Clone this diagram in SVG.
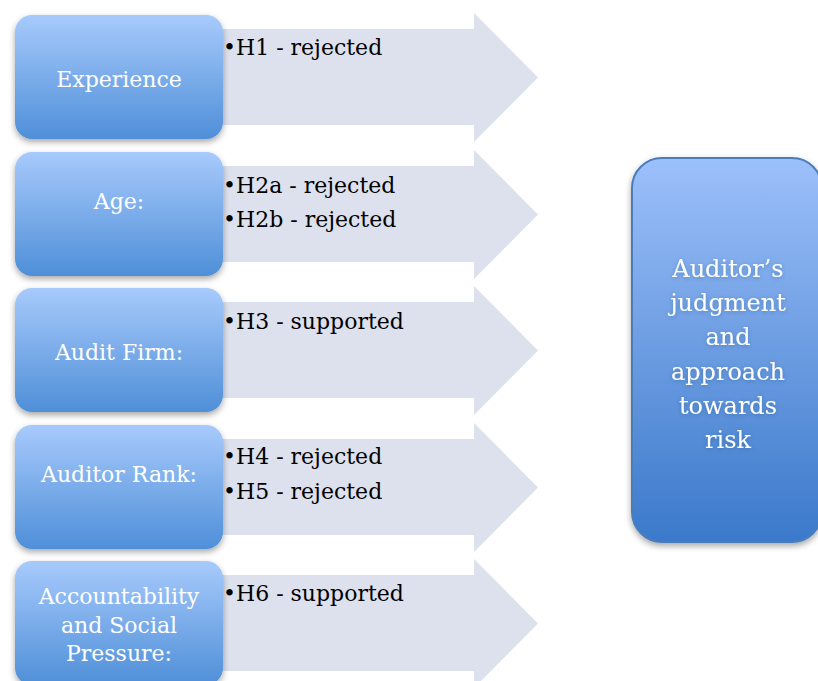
<svg xmlns="http://www.w3.org/2000/svg" width="818" height="681" viewBox="0 0 818 681">
<defs>
<linearGradient id="gBox" x1="0" y1="0" x2="0" y2="1">
<stop offset="0" stop-color="#a7cafc"/>
<stop offset="1" stop-color="#4f8fd8"/>
</linearGradient>
<linearGradient id="gBig" x1="0" y1="0" x2="0" y2="1">
<stop offset="0" stop-color="#9cc0fa"/>
<stop offset="1" stop-color="#3b79ca"/>
</linearGradient>
<filter id="sh" x="-10%" y="-10%" width="120%" height="130%">
<feDropShadow dx="0" dy="3" stdDeviation="3" flood-color="#000" flood-opacity="0.35"/>
</filter>
<filter id="tsh" x="-10%" y="-10%" width="120%" height="130%">
<feDropShadow dx="0" dy="1" stdDeviation="2" flood-color="#1f3f70" flood-opacity="0.35"/>
</filter>
</defs>
<style>
.arrow{fill:#dce1ed}
.box{fill:url(#gBox);filter:url(#sh)}
.big{fill:url(#gBig);stroke:#4a7ebb;stroke-width:2;filter:url(#sh)}
.lbl{font-family:"DejaVu Serif",serif;font-size:22px;fill:#ffffff;text-anchor:middle}
.hyp{font-family:"DejaVu Serif",serif;font-size:22px;fill:#000000}
.out{font-family:"DejaVu Serif",serif;font-size:24px;fill:#ffffff;text-anchor:middle;filter:url(#tsh)}
</style>
<rect width="818" height="681" fill="#ffffff"/>
<g id="connectors">
<path class="arrow" d="M215 29 H474 V13 L538 77.5 L474 142 V125 H215 Z"/>
<path class="arrow" transform="translate(0,137)" d="M215 29 H474 V13 L538 77.5 L474 142 V125 H215 Z"/>
<path class="arrow" transform="translate(0,273)" d="M215 29 H474 V13 L538 77.5 L474 142 V125 H215 Z"/>
<path class="arrow" transform="translate(0,410)" d="M215 29 H474 V13 L538 77.5 L474 142 V125 H215 Z"/>
<path class="arrow" transform="translate(0,546)" d="M215 29 H474 V13 L538 77.5 L474 142 V125 H215 Z"/>
</g>
<g id="experience">
<rect class="box" x="15" y="15" width="208" height="124" rx="17"/>
<text class="lbl" x="119" y="87">Experience</text>
<text class="hyp" x="223" y="55">•H1 - rejected</text>
</g>
<g id="age">
<rect class="box" x="15" y="152" width="208" height="124" rx="17"/>
<text class="lbl" x="119" y="209">Age:</text>
<text class="hyp" x="223" y="193">•H2a - rejected</text>
<text class="hyp" x="223" y="227">•H2b - rejected</text>
</g>
<g id="audit-firm">
<rect class="box" x="15" y="288" width="208" height="124" rx="17"/>
<text class="lbl" x="119" y="360">Audit Firm:</text>
<text class="hyp" x="223" y="329">•H3 - supported</text>
</g>
<g id="auditor-rank">
<rect class="box" x="15" y="425" width="208" height="124" rx="17"/>
<text class="lbl" x="119" y="482">Auditor Rank:</text>
<text class="hyp" x="223" y="464">•H4 - rejected</text>
<text class="hyp" x="223" y="499">•H5 - rejected</text>
</g>
<g id="accountability">
<rect class="box" x="15" y="561" width="208" height="124" rx="17"/>
<text class="lbl" x="119" y="604">Accountability</text>
<text class="lbl" x="119" y="633">and Social</text>
<text class="lbl" x="119" y="661">Pressure:</text>
<text class="hyp" x="223" y="601">•H6 - supported</text>
</g>
<g id="outcome">
<rect class="big" x="632" y="158" width="190" height="384" rx="30"/>
<text class="out" x="728" y="277">Auditor’s</text>
<text class="out" x="728" y="311">judgment</text>
<text class="out" x="728" y="345">and</text>
<text class="out" x="728" y="380">approach</text>
<text class="out" x="728" y="414">towards</text>
<text class="out" x="728" y="448">risk</text>
</g>
</svg>
